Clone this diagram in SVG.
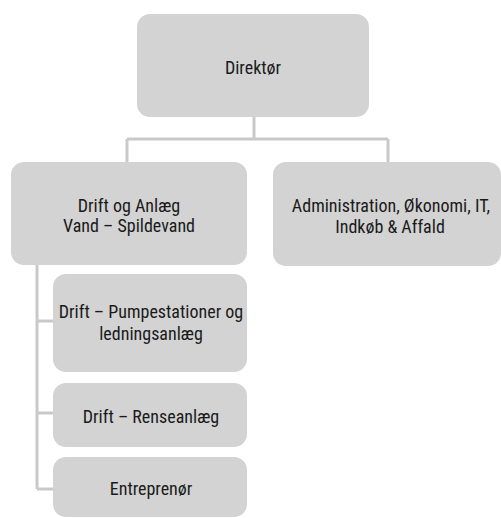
<svg xmlns="http://www.w3.org/2000/svg" width="501" height="518" viewBox="0 0 501 518">
<style>
.box{fill:#d3d3d3;}
.t{font-family:"Liberation Sans Narrow","Roboto Condensed","Liberation Sans",sans-serif;font-size:18px;fill:#1a1a1a;text-anchor:middle;}
.c{fill:none;stroke:#c9c9c9;stroke-width:3;}
</style>
<rect width="501" height="518" fill="#ffffff"/>
<g id="connectors">
<path class="c" d="M254 117 V139 M127 139 H388 M127 139 V162 M388 139 V162"/>
<path class="c" d="M37 265 V489 M37 321 H53 M37 413 H53 M37 489 H53"/>
</g>
<g id="direktor">
<rect class="box" x="137" y="14" width="232" height="103" rx="13"/>
<text class="t" x="253" y="74">Direktør</text>
</g>
<g id="drift-anlaeg">
<rect class="box" x="11" y="162" width="236" height="103" rx="13"/>
<text class="t" x="129" y="212">Drift og Anlæg</text>
<text class="t" x="129" y="232">Vand – Spildevand</text>
</g>
<g id="administration">
<rect class="box" x="273" y="162" width="228" height="104" rx="13"/>
<text class="t" x="391" y="212">Administration, Økonomi, IT,</text>
<text class="t" x="390" y="233">Indkøb &amp; Affald</text>
</g>
<g id="pumpestationer">
<rect class="box" x="53" y="274" width="194" height="98" rx="13"/>
<text class="t" x="151" y="318">Drift – Pumpestationer og</text>
<text class="t" x="151" y="340">ledningsanlæg</text>
</g>
<g id="renseanlaeg">
<rect class="box" x="53" y="383" width="194" height="64" rx="13"/>
<text class="t" x="151" y="423">Drift – Renseanlæg</text>
</g>
<g id="entreprenor">
<rect class="box" x="53" y="457" width="194" height="60" rx="13"/>
<text class="t" x="151" y="495">Entreprenør</text>
</g>
</svg>
